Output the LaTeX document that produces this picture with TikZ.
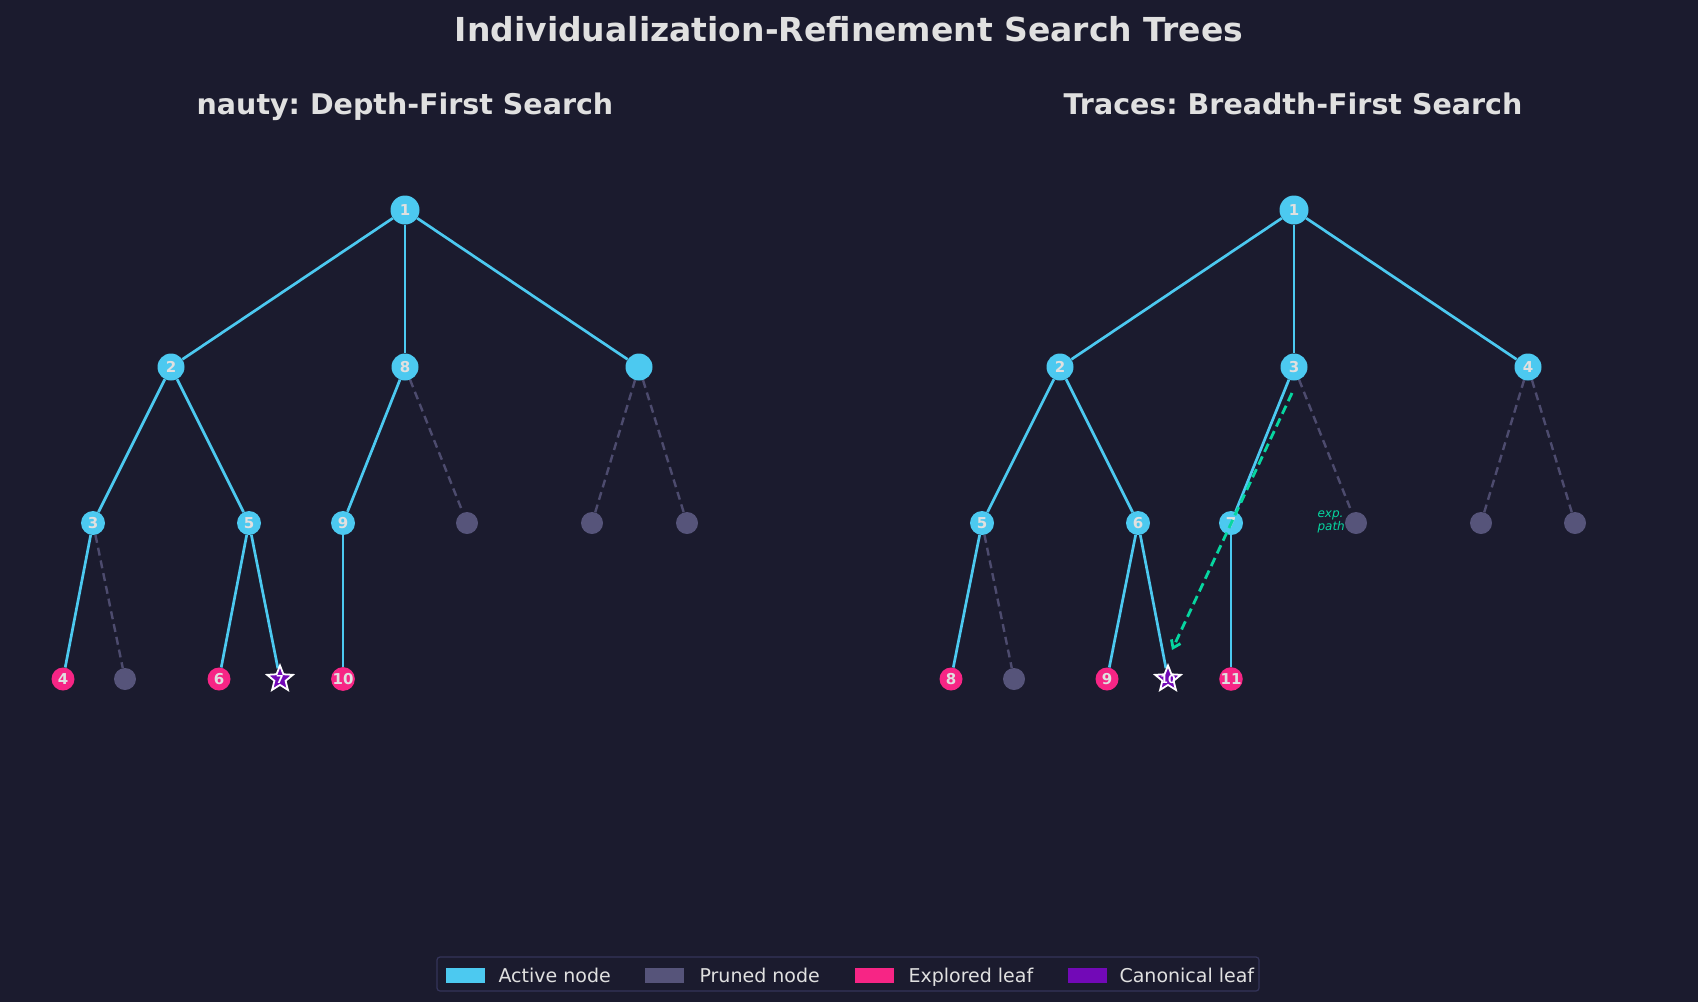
\documentclass[tikz,border=0pt]{standalone}
\usepackage{fontspec}
\setmainfont{DejaVu Sans}
\frenchspacing
\usetikzlibrary{shapes.geometric,arrows.meta}
\pgfdeclarelayer{back}
\pgfdeclarelayer{edges}
\pgfsetlayers{back,edges,main}
\definecolor{bg}{HTML}{1B1B2E}
\definecolor{act}{HTML}{4CC9F0}
\definecolor{prn}{HTML}{56547A}
\definecolor{expl}{HTML}{F72585}
\definecolor{canon}{HTML}{7209B7}
\definecolor{grn}{HTML}{06D6A0}
\definecolor{txt}{HTML}{E0E0E0}
\definecolor{lgedge}{HTML}{34345A}
\tikzset{
  nd/.style={circle, inner sep=0pt, text=txt, font=\fontsize{15}{15}\selectfont\bfseries},
  act0/.style={nd, fill=act, minimum size=29pt},
  act1/.style={nd, fill=act, minimum size=27pt},
  act2/.style={nd, fill=act, minimum size=24pt},
  leafx/.style={nd, fill=expl, minimum size=23pt},
  prnode/.style={nd, fill=prn, minimum size=22pt},
  canonleaf/.style={star, star points=5, star point ratio=2.3, fill=canon, draw=white, line width=1.8pt, minimum size=27pt, inner sep=0pt},
  canonlbl/.style={text=white, font=\fontsize{11}{11}\selectfont\bfseries, inner sep=0pt},
  edgeA/.style={draw=act, line width=2.7pt},
  edgeP/.style={draw=prn, line width=2.4pt, dash pattern=on 8pt off 5pt, opacity=0.85},
  ttl/.style={text=txt, font=\fontsize{33}{33}\selectfont\bfseries},
  sttl/.style={text=txt, font=\fontsize{28.5}{28.5}\selectfont\bfseries, anchor=base},
  lgtext/.style={text=txt, font=\fontsize{19}{19}\selectfont, anchor=base west},
  lgpatch/.style={minimum width=39pt, minimum height=15pt, inner sep=0pt},
}
\begin{document}
\begin{tikzpicture}[x=1pt,y=-1pt]
\begin{pgfonlayer}{back}
\fill[bg] (0,0) rectangle (1698,1002);
\end{pgfonlayer}
\useasboundingbox (0,0) rectangle (1698,1002);

\node[ttl] (title) at (849,29) {Individualization-Refinement Search Trees};
\node[sttl] (stL) at (405,114.5) {nauty: Depth-First Search};
\node[sttl] (stR) at (1293,114.5) {Traces: Breadth-First Search};

% ---------- left tree ----------
\node[act0] (L1) at (405,210) {1};
\node[act1] (L2) at (171,367) {2};
\node[act1] (L8) at (405,367) {8};
\node[act1] (LU) at (639,367) {};
\node[act2] (L3) at (93,523) {3};
\node[act2] (L5) at (249,523) {5};
\node[act2] (L9) at (343,523) {9};
\node[prnode] (LP1) at (467,523) {};
\node[prnode] (LP2) at (592,523) {};
\node[prnode] (LP3) at (687,523) {};
\node[leafx] (L4) at (63,679) {4};
\node[prnode] (LP4) at (125,679) {};
\node[leafx] (L6) at (219,679) {6};
\node[canonleaf, label={[canonlbl]center:7}] (L7) at (280,679) {};
\node[leafx] (L10) at (343,679) {10};

% ---------- right tree ----------
\node[act0] (R1) at (1294,210) {1};
\node[act1] (R2) at (1060,367) {2};
\node[act1] (R3) at (1294,367) {3};
\node[act1] (R4) at (1528,367) {4};
\node[act2] (R5) at (982,523) {5};
\node[act2] (R6) at (1138,523) {6};
\node[act2] (R7) at (1231,523) {7};
\node[prnode] (RP1) at (1356,523) {};
\node[prnode] (RP2) at (1481,523) {};
\node[prnode] (RP3) at (1575,523) {};
\node[leafx] (R8) at (951,679) {8};
\node[prnode] (RP4) at (1014,679) {};
\node[leafx] (R9) at (1107,679) {9};
\node[canonleaf, label={[canonlbl]center:10}] (R10) at (1168,679) {};
\node[leafx] (R11) at (1231,679) {11};

\begin{pgfonlayer}{edges}
% edges left
\draw[edgeA] (L1) -- (L2);
\draw[edgeA] (L1) -- (L8);
\draw[edgeA] (L1) -- (LU);
\draw[edgeA] (L2) -- (L3);
\draw[edgeA] (L2) -- (L5);
\draw[edgeA] (L8) -- (L9);
\draw[edgeP] (L8) -- (LP1);
\draw[edgeP] (LU) -- (LP2);
\draw[edgeP] (LU) -- (LP3);
\draw[edgeA] (L3) -- (L4);
\draw[edgeP] (L3) -- (LP4);
\draw[edgeA] (L5) -- (L6);
\draw[edgeA] (L5) -- (L7);
\draw[edgeA] (L9) -- (L10);
% edges right
\draw[edgeA] (R1) -- (R2);
\draw[edgeA] (R1) -- (R3);
\draw[edgeA] (R1) -- (R4);
\draw[edgeA] (R2) -- (R5);
\draw[edgeA] (R2) -- (R6);
\draw[edgeA] (R3) -- (R7);
\draw[edgeP] (R3) -- (RP1);
\draw[edgeP] (R4) -- (RP2);
\draw[edgeP] (R4) -- (RP3);
\draw[edgeA] (R5) -- (R8);
\draw[edgeP] (R5) -- (RP4);
\draw[edgeA] (R6) -- (R9);
\draw[edgeA] (R6) -- (R10);
\draw[edgeA] (R7) -- (R11);
\end{pgfonlayer}

% exploration path
\coordinate (epA) at (1292,393);
\coordinate (epB) at (1172,650);
\draw[grn, line width=2.8pt, dash pattern=on 9pt off 5pt, -{Straight Barb[length=7pt,width=10pt]}] (epA) -- (epB);
\node[text=grn, font=\fontsize{12}{13}\selectfont\itshape, align=left, anchor=west] (exl) at (1314,522) {exp.\\path};

% legend
\node[draw=lgedge, line width=1.2pt, fill=bg, rounded corners=3pt, minimum width=822pt, minimum height=34pt] (lg) at (848,974) {};
\node[lgpatch, fill=act] (lp1) at (465,975) {};
\node[lgtext] (lt1) at (495,982) {Active node};
\node[lgpatch, fill=prn] (lp2) at (664,975) {};
\node[lgtext] (lt2) at (696,982) {Pruned node};
\node[lgpatch, fill=expl] (lp3) at (874,975) {};
\node[lgtext] (lt3) at (905,982) {Explored leaf};
\node[lgpatch, fill=canon] (lp4) at (1087,975) {};
\node[lgtext] (lt4) at (1116,982) {Canonical leaf};
\end{tikzpicture}
\end{document}
